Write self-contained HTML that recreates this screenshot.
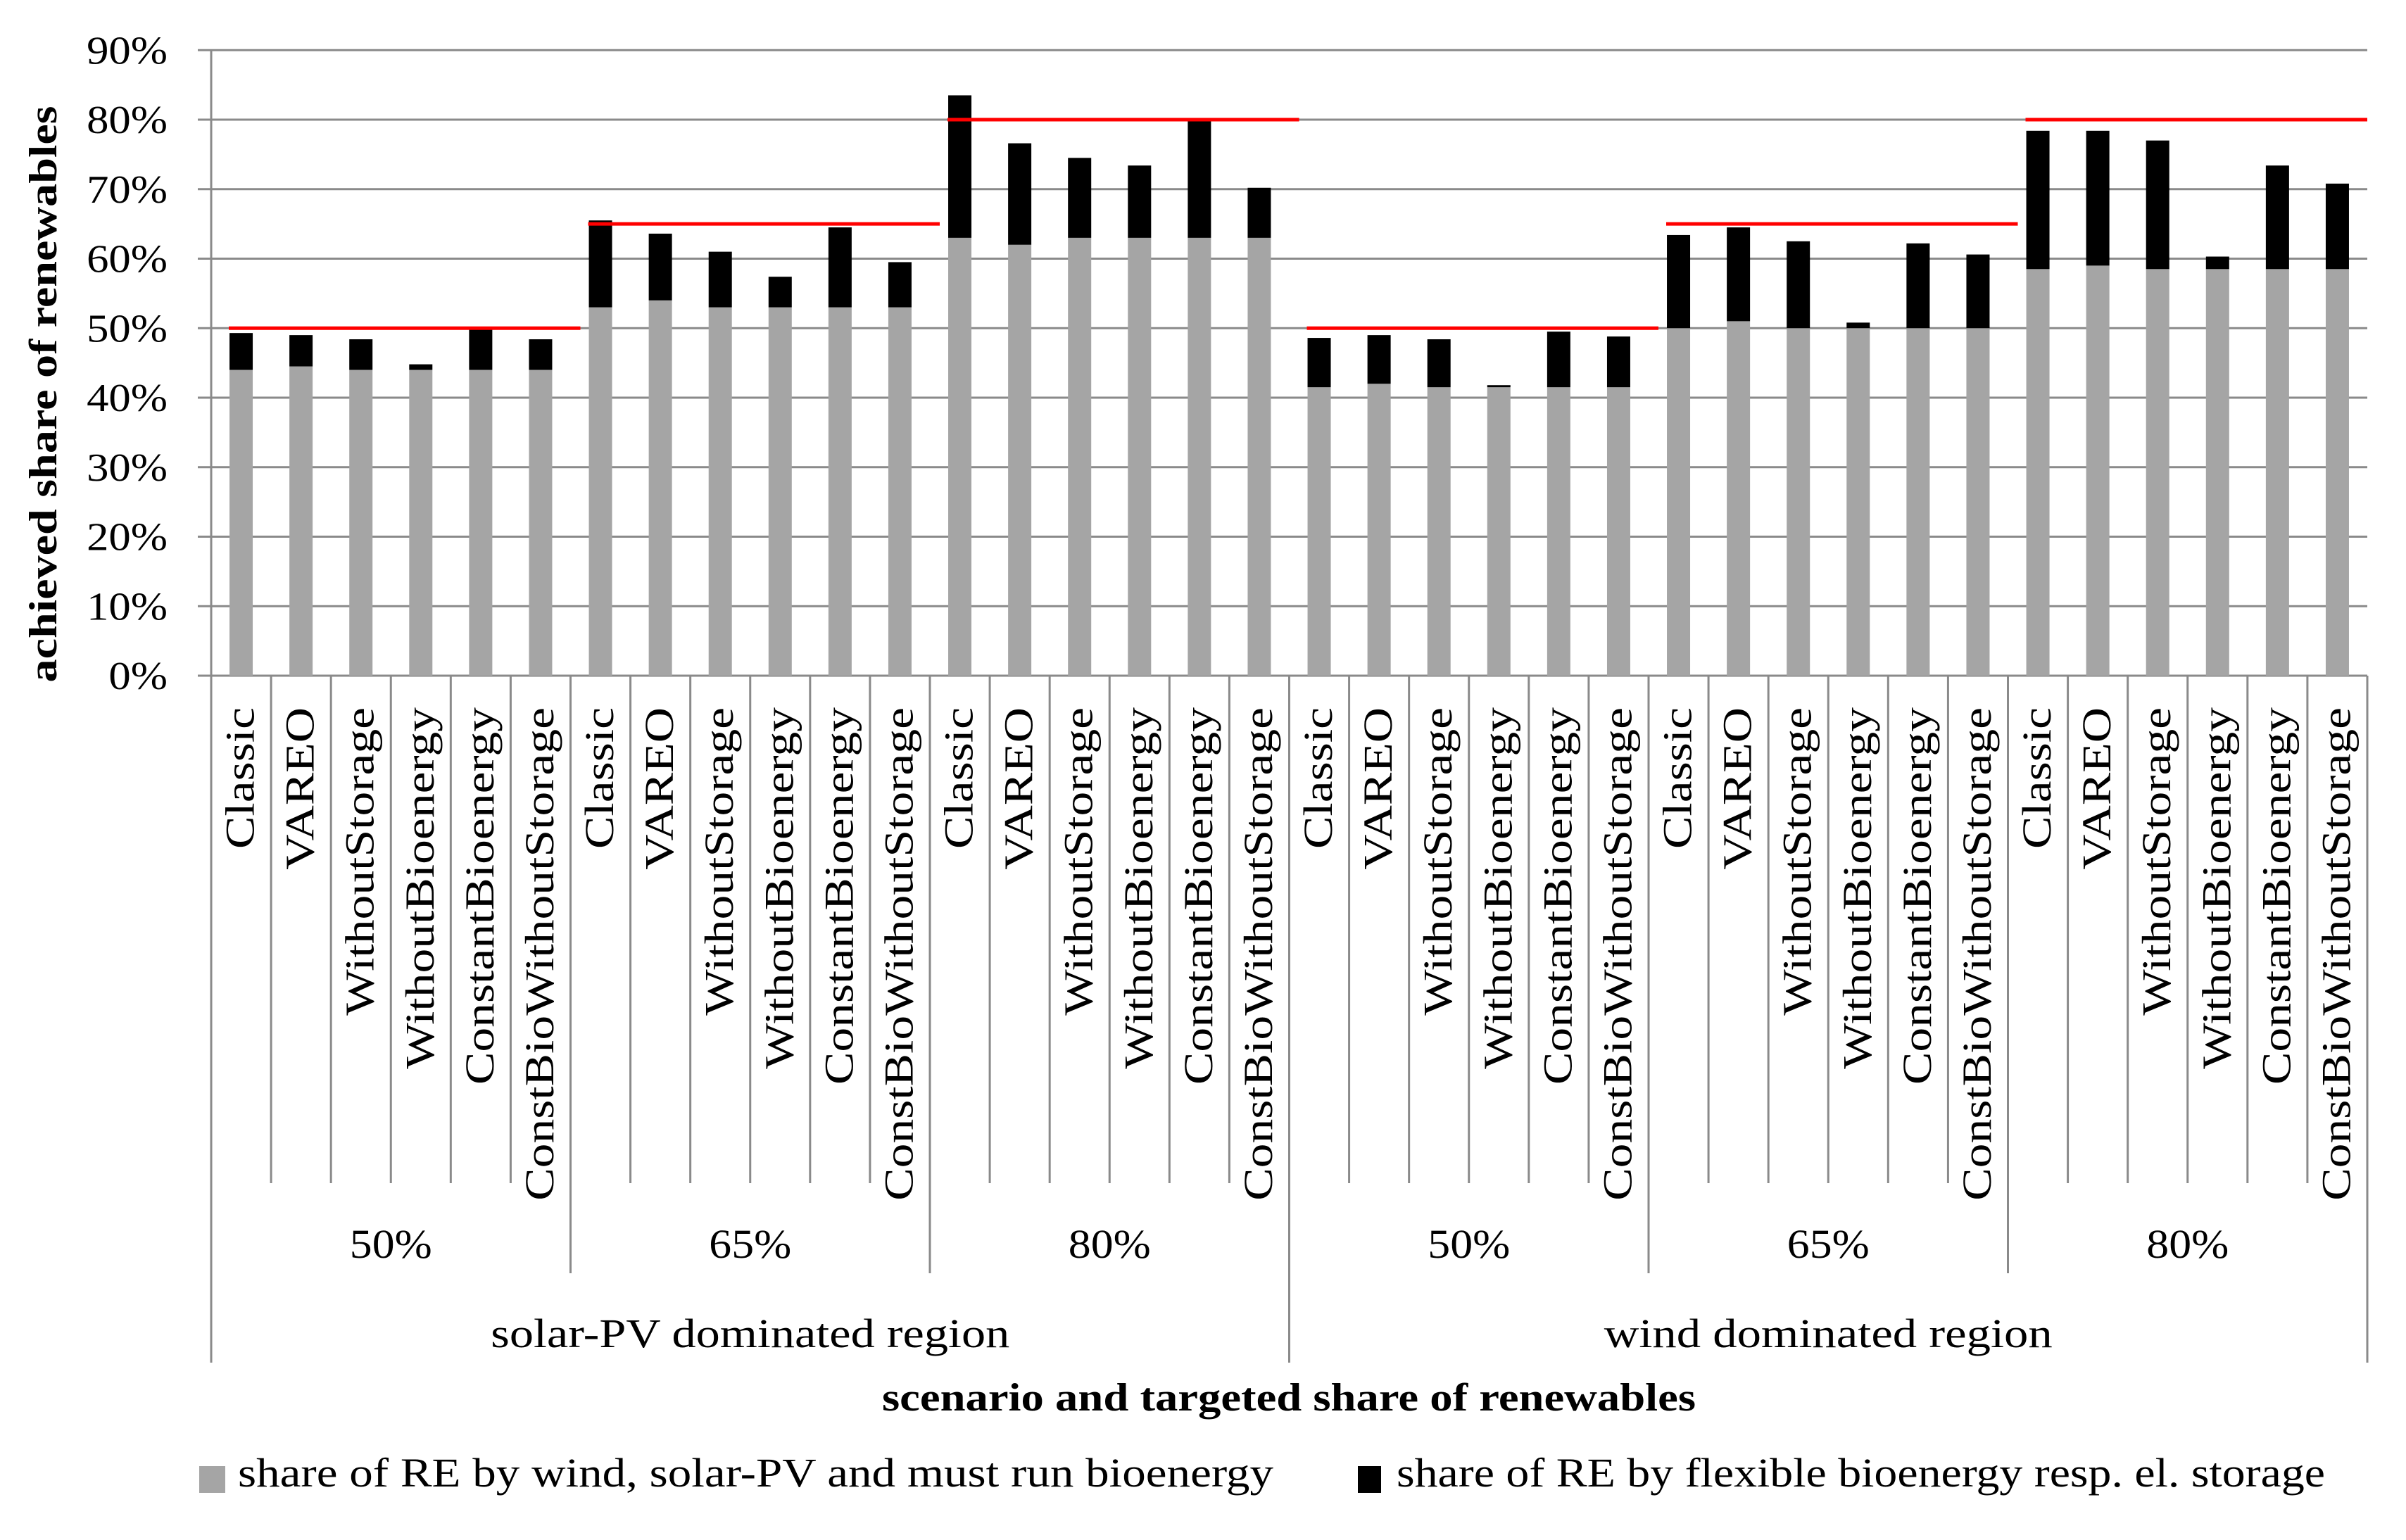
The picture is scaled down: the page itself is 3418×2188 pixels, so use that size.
<!DOCTYPE html>
<html><head><meta charset="utf-8"><style>
html,body{margin:0;padding:0;background:#fff;}
svg{display:block;font-family:"Liberation Serif",serif;}
</style></head><body>
<svg id="chart" width="3418" height="2188" viewBox="0 0 3418 2188" xmlns="http://www.w3.org/2000/svg">
<g id="grid"></g>
<g id="bars"></g>
<g id="targets"></g>
<g id="axes"></g>
<text transform="translate(80,560) rotate(-90)" text-anchor="middle" font-weight="bold" font-size="56" textLength="819" lengthAdjust="spacingAndGlyphs">achieved share of renewables</text>
<text x="1831" y="2004" text-anchor="middle" font-weight="bold" font-size="56" textLength="1156" lengthAdjust="spacingAndGlyphs">scenario and targeted share of renewables</text>
<g>
<rect x="283" y="2083" width="37" height="38" fill="#a5a5a5"/>
<text x="338" y="2112" font-size="58" textLength="1471" lengthAdjust="spacingAndGlyphs">share of RE by wind, solar-PV and must run bioenergy</text>
<rect x="1929" y="2083" width="33" height="38" fill="#000"/>
<text x="1984" y="2112" font-size="58" textLength="1319" lengthAdjust="spacingAndGlyphs">share of RE by flexible bioenergy resp. el. storage</text>
</g>
</svg>
<script>
const scenarios = ["Classic","VAREO","WithoutStorage","WithoutBioenergy","ConstantBioenergy","ConstBioWithoutStorage"];
const targetLabels = ["50%","65%","80%","50%","65%","80%"];
const regionLabels = ["solar-PV dominated region","wind dominated region"];
const targetValues = [50,65,80,50,65,80];
const baseShare = [44,44.5,44,44,44,44, 53,54,53,53,53,53, 63,62,63,63,63,63, 41.5,42,41.5,41.5,41.5,41.5, 50,51,50,50,50,50, 58.5,59,58.5,58.5,58.5,58.5];
const totalShare = [49.3,49,48.4,44.8,50,48.4, 65.5,63.6,61,57.4,64.5,59.5, 83.5,76.6,74.5,73.4,80,70.2, 48.6,49,48.4,41.8,49.5,48.8, 63.4,64.5,62.5,50.8,62.2,60.6, 78.4,78.4,77,60.3,73.4,70.8];
const yTicks = [0,10,20,30,40,50,60,70,80,90];

const NS="http://www.w3.org/2000/svg";
const X0=300, X1=3363, Y0=960, YTOP=71.25;
const n=baseShare.length, cw=(X1-X0)/n;
const y=v=>Y0-(Y0-YTOP)*v/90;
const xc=i=>X0+(i+0.5)*cw;
const regionWidths=[737,637];
function mk(tag,attrs,parent){const e=document.createElementNS(NS,tag);for(const k in attrs)e.setAttribute(k,attrs[k]);parent.appendChild(e);return e;}
const grid=document.getElementById('grid'),bars=document.getElementById('bars'),tg=document.getElementById('targets'),ax=document.getElementById('axes');

yTicks.forEach(t=>{
  const l=mk('line',{x1:281,x2:X1,y1:y(t),y2:y(t),stroke:'#8a8a8a','stroke-width':3},grid);
  
  
  const tx=mk('text',{transform:'translate(238,'+(y(t)+19)+') scale(1.12,1)','text-anchor':'end','font-size':56},ax);
  
  
  tx.textContent=t+'%';
});

const bw=33;
for(let i=0;i<n;i++){
  const g=mk('rect',{x:xc(i)-bw/2,y:y(baseShare[i]),width:bw,height:Y0-y(baseShare[i]),fill:'#a5a5a5'},bars);
  
  
  const top=Math.max(totalShare[i],baseShare[i]);
  const b=mk('rect',{x:xc(i)-bw/2,y:y(top),width:bw,height:y(baseShare[i])-y(top),fill:'#000'},bars);
  
  
  const lab=mk('text',{transform:'translate('+(xc(i)+18)+',1005) rotate(-90) scale(1.2,1)','text-anchor':'end','font-size':58},ax);
  
  
  lab.textContent=scenarios[i%6];
}

targetValues.forEach((v,gi)=>{
  const s=X0+gi*6*cw+25, e=Math.min(X0+(gi+1)*6*cw+14,X1);
  const l=mk('line',{x1:s,x2:e,y1:y(v),y2:y(v),stroke:'#ff0000','stroke-width':5},tg);
  
  
  const t=mk('text',{transform:'translate('+(X0+(gi*6+3)*cw)+',1787) scale(1.1,1)','text-anchor':'middle','font-size':58},ax);
  
  
  t.textContent=targetLabels[gi];
});
regionLabels.forEach((r,ri)=>{
  const t=mk('text',{x:X0+(ri*18+9)*cw,y:1914,'text-anchor':'middle','font-size':58,textLength:regionWidths[ri],lengthAdjust:'spacingAndGlyphs'},ax);
  
  
  t.textContent=r;
});

for(let i=0;i<=n;i++){
  let yb=1681;
  if(i%18===0) yb=1936; else if(i%6===0) yb=1809;
  const l=mk('line',{x1:X0+i*cw,x2:X0+i*cw,y1:Y0,y2:yb,stroke:'#8a8a8a','stroke-width':3},ax);
  
  
}
const ya=mk('line',{x1:X0,x2:X0,y1:YTOP,y2:Y0,stroke:'#8a8a8a','stroke-width':3},ax);


</script>
</body></html>
